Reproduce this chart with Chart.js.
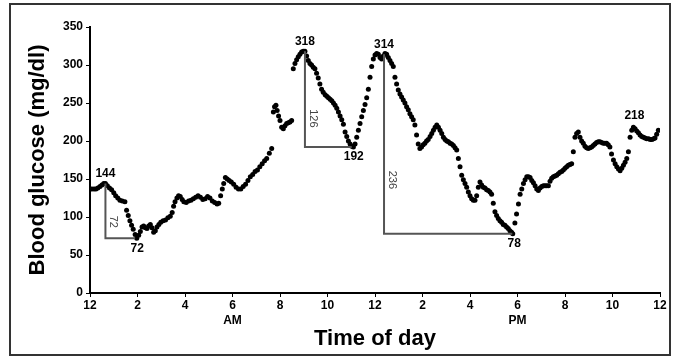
<!DOCTYPE html>
<html>
<head>
<meta charset="utf-8">
<script src="https://cdn.jsdelivr.net/npm/chart.js@4"></script>
<style>
  html, body { margin: 0; padding: 0; background: #fff; }
  canvas { display: block; }
</style>
</head>
<body>
<canvas id="glucoseChart" width="673" height="358"></canvas>
<script>
// readings, hour of day (0 = midnight) and mg/dl
const hours = [
  0, 0.08, 0.17, 0.25, 0.33, 0.42, 0.5, 0.58, 0.65, 0.73, 0.82, 0.91, 1.0, 1.08, 1.17, 1.26, 1.36, 1.47, 1.54, 1.61, 1.68, 1.75, 1.82, 1.9, 1.97,
  2.05, 2.12, 2.19, 2.26, 2.33, 2.4, 2.47, 2.54, 2.61, 2.68, 2.75, 2.82, 2.9, 2.98,
  3.08, 3.18, 3.28, 3.38, 3.46, 3.52, 3.58, 3.66, 3.73, 3.8, 3.88, 3.95,
  4.05, 4.15, 4.25, 4.35, 4.45, 4.55, 4.65, 4.75, 4.85, 4.95,
  5.05, 5.15, 5.25, 5.35, 5.42, 5.5, 5.57, 5.63, 5.7, 5.78, 5.86, 5.95,
  6.05, 6.15, 6.25, 6.35, 6.45, 6.55, 6.65, 6.75, 6.85, 6.95,
  7.05, 7.15, 7.25, 7.35, 7.44, 7.55, 7.65, 7.72, 7.77, 7.83, 7.88, 7.94,
  8.0, 8.07, 8.14, 8.21, 8.28, 8.35, 8.42, 8.49, 8.56, 8.63, 8.7, 8.77, 8.84, 8.91, 8.98,
  9.05, 9.12, 9.19, 9.26, 9.33, 9.4, 9.47, 9.54, 9.61, 9.68, 9.75, 9.82, 9.9, 9.97,
  10.04, 10.11, 10.18, 10.25, 10.32, 10.39, 10.46, 10.53, 10.6, 10.67, 10.74, 10.81, 10.88, 10.95,
  11.02, 11.09, 11.16, 11.23, 11.3, 11.37, 11.44, 11.51, 11.58, 11.65, 11.72, 11.79, 11.86, 11.93,
  12.0, 12.07, 12.14, 12.21, 12.28, 12.35, 12.42, 12.49, 12.56, 12.63, 12.7, 12.77, 12.84, 12.91, 12.98,
  13.05, 13.12, 13.19, 13.26, 13.33, 13.4, 13.47, 13.54, 13.61, 13.68, 13.75, 13.82, 13.89, 13.96,
  14.03, 14.1, 14.17, 14.24, 14.32, 14.39, 14.46, 14.53, 14.6, 14.67, 14.74, 14.81, 14.88, 14.95,
  15.02, 15.09, 15.16, 15.23, 15.3, 15.37, 15.44, 15.51, 15.58, 15.65, 15.72, 15.79, 15.86, 15.93,
  16.0, 16.07, 16.14, 16.21, 16.28, 16.35, 16.42, 16.49, 16.56, 16.63, 16.7, 16.77, 16.84, 16.91, 16.98,
  17.05, 17.12, 17.19, 17.26, 17.33, 17.4, 17.47, 17.54, 17.61, 17.68, 17.75, 17.8, 17.89, 17.96,
  18.04, 18.11, 18.18, 18.25, 18.32, 18.39, 18.46, 18.53, 18.6, 18.67, 18.74, 18.81, 18.88, 18.95,
  19.02, 19.09, 19.16, 19.23, 19.3, 19.37, 19.44, 19.51, 19.58, 19.65, 19.72, 19.79, 19.86, 19.93,
  20.0, 20.07, 20.14, 20.21, 20.28, 20.35, 20.42, 20.49, 20.56, 20.63, 20.7, 20.77, 20.84, 20.91, 20.98,
  21.05, 21.12, 21.19, 21.26, 21.33, 21.4, 21.47, 21.54, 21.61, 21.68, 21.75, 21.82, 21.89, 21.96,
  22.04, 22.11, 22.18, 22.25, 22.32, 22.39, 22.46, 22.53, 22.6, 22.67, 22.74, 22.81, 22.88, 22.95,
  23.02, 23.09, 23.16, 23.23, 23.3, 23.37, 23.44, 23.52, 23.59, 23.66, 23.73, 23.79, 23.86, 23.93
];
const glucose = [
  137, 137, 137, 137, 138, 140, 142, 144, 144, 141, 138, 136, 132, 128, 125, 122, 121, 120, 109, 102, 95, 89, 84, 77, 72,
  76, 81, 87, 88, 86, 85, 88, 90, 86, 80, 82, 87, 90, 93,
  95, 96, 99, 101, 106, 114, 120, 125, 128, 127, 123, 120,
  119, 121, 122, 124, 126, 128, 126, 123, 124, 127,
  125, 121, 119, 117, 118, 128, 137, 144, 152, 150, 148, 146,
  143, 139, 137, 137, 140, 143, 148, 153, 156, 160,
  162, 166, 170, 174, 177, 184, 190, 238, 245, 247, 240, 233,
  227, 218, 216, 220, 223, 224, 225, 227, 295, 302, 307, 311, 314, 317, 318,
  318, 312, 306, 302, 300, 297, 295, 289, 283, 275, 268, 264, 261, 259,
  257, 255, 253, 250, 247, 243, 238, 233, 228, 222, 212, 206, 200, 196,
  193, 192, 196, 205, 214, 223, 232, 240, 248, 257, 268, 284, 298, 308,
  313, 315, 314, 310, 308, 312, 315, 314, 310, 306, 302, 298, 284, 275, 267,
  262, 258, 254, 250, 245, 241, 236, 232, 228, 221, 208, 196, 190, 192,
  195, 197, 200, 202, 206, 210, 214, 218, 221, 218, 214, 210, 205, 202,
  200, 199, 197, 196, 194, 191, 188, 177, 166, 155, 149, 144, 139, 133,
  128, 124, 122, 122, 128, 139, 146, 142, 139, 138, 136, 135, 133, 130, 118,
  107, 102, 98, 95, 93, 90, 89, 87, 85, 82, 80, 78, 92, 104,
  117, 130, 137, 144, 149, 153, 153, 152, 148, 145, 141, 137, 135, 138,
  140, 141, 141, 141, 141, 147, 151, 153, 154, 155, 157, 159, 160, 162,
  164, 166, 168, 169, 170, 186, 205, 210, 212, 205, 200, 197, 193, 191, 190,
  191, 192, 194, 196, 198, 199, 199, 198, 197, 197, 197, 195, 192, 183,
  175, 170, 166, 163, 161, 164, 168, 172, 177, 186, 205, 214, 218, 216,
  213, 211, 208, 206, 205, 204, 203, 203, 202, 202, 203, 204, 209, 214
];

const xTickLabels = ['12', '2', '4', ['6', 'AM'], '8', '10', '12', '2', '4', ['6', 'PM'], '8', '10', '12'];

// marked swings: peak -> following low
const swingPeakHours = [0.65, 9.05, 12.38];
const swingPeakValues = [144, 318, 314];
const swingLowHours = [1.9, 11.02, 17.78];
const swingLowValues = [72, 192, 78];
// lone peak label
const extraPeakHours = [22.88];
const extraPeakValues = [218];

const FONT = 'Liberation Sans, Arial, sans-serif';

const swingPlugin = {
  id: 'swings',
  afterDatasetsDraw(chart) {
    const { ctx, scales: { x, y } } = chart;
    ctx.save();
    ctx.lineWidth = 2;
    ctx.strokeStyle = '#555';
    ctx.fillStyle = '#000';
    ctx.textAlign = 'center';
    ctx.textBaseline = 'middle';

    swingPeakHours.forEach((ph, i) => {
      const px = x.getPixelForValue(ph);
      const pyTop = y.getPixelForValue(swingPeakValues[i]);
      const lx = x.getPixelForValue(swingLowHours[i]);
      const ly = y.getPixelForValue(swingLowValues[i]);

      ctx.beginPath();
      ctx.moveTo(px, pyTop);
      ctx.lineTo(px, ly);
      ctx.lineTo(lx, ly);
      ctx.stroke();

      // drop size, written sideways
      const drop = swingPeakValues[i] - swingLowValues[i];
      const midY = y.getPixelForValue(swingLowValues[i] + drop * 0.3);
      ctx.save();
      ctx.translate(px + 8, midY);
      ctx.rotate(Math.PI / 2);
      ctx.font = '11px ' + FONT;
      ctx.fillStyle = '#444';
      ctx.fillText(String(drop), 0, 0);
      ctx.restore();

      ctx.font = 'bold 12px ' + FONT;
      ctx.fillText(String(swingPeakValues[i]), px, pyTop - 10);
      ctx.fillText(String(swingLowValues[i]), lx + 2, ly + 10);
    });

    ctx.font = 'bold 12px ' + FONT;
    extraPeakHours.forEach((h, i) => {
      ctx.fillText(String(extraPeakValues[i]), x.getPixelForValue(h) + 1, y.getPixelForValue(extraPeakValues[i]) - 12);
    });

    // outer frame
    ctx.lineWidth = 2;
    ctx.strokeStyle = '#333';
    ctx.strokeRect(10, 4, 660, 351);
    ctx.restore();
  }
};

const ctx = document.getElementById('glucoseChart').getContext('2d');

new Chart(ctx, {
  type: 'scatter',
  data: {
    datasets: [{
      label: 'Blood glucose',
      data: hours.map((h, i) => ({ x: h, y: glucose[i] })),
      showLine: false,
      pointRadius: 2.5,
      pointBorderWidth: 0,
      pointBackgroundColor: '#000',
      pointHoverRadius: 2.5
    }]
  },
  options: {
    responsive: false,
    animation: false,
    layout: {
      padding: { top: 27, right: 13, left: 0, bottom: 0 }
    },
    plugins: {
      legend: { display: false },
      tooltip: { enabled: false }
    },
    scales: {
      x: {
        type: 'linear',
        min: 0,
        max: 24,
        afterFit: (scale) => { scale.height = 65; },
        border: { color: '#000', width: 2 },
        grid: { drawOnChartArea: false, tickLength: 4, color: '#000' },
        ticks: {
          stepSize: 2,
          autoSkip: false,
          maxRotation: 0,
          padding: 1,
          color: '#000',
          font: { family: FONT, size: 12, weight: 'bold', lineHeight: 1.25 },
          callback: (value) => xTickLabels[value / 2]
        },
        title: {
          display: true,
          text: 'Time of day',
          color: '#000',
          font: { family: FONT, size: 22, weight: 'bold' },
          padding: { top: 0, bottom: 6 }
        }
      },
      y: {
        min: 0,
        max: 350,
        afterFit: (scale) => { scale.width = 90; },
        border: { color: '#000', width: 2 },
        grid: { drawOnChartArea: false, tickLength: 4, color: '#000' },
        ticks: {
          stepSize: 50,
          padding: 3,
          color: '#000',
          font: { family: FONT, size: 12, weight: 'bold' }
        },
        title: {
          display: true,
          text: 'Blood glucose (mg/dl)',
          color: '#000',
          font: { family: FONT, size: 22, weight: 'bold' },
          padding: { top: 25, bottom: 0 }
        }
      }
    }
  },
  plugins: [swingPlugin]
});
</script>
</body>
</html>
